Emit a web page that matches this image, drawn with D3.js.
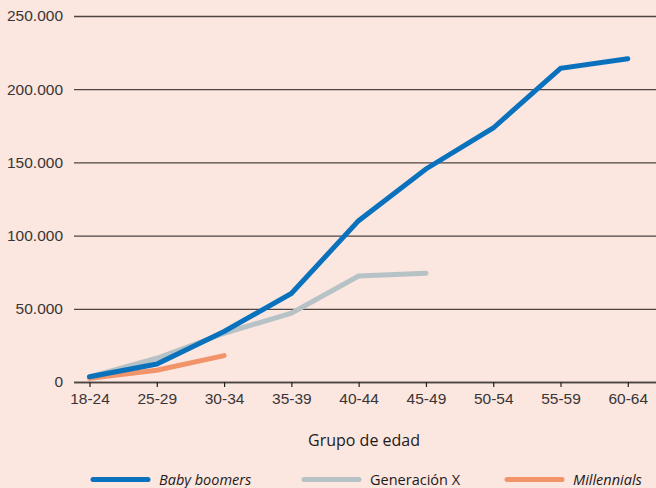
<!DOCTYPE html>
<html>
<head>
<meta charset="utf-8">
<script src="https://cdn.jsdelivr.net/npm/d3@7"></script>
<style>
  html, body { margin: 0; padding: 0; background: #fbe6e0; }
  svg { display: block; font-family: "Open Sans", "Noto Sans", sans-serif; }
</style>
</head>
<body>
<svg id="chart" width="656" height="488"></svg>
<script>
// Age groups along the x axis
const categories = ["18-24", "25-29", "30-34", "35-39", "40-44", "45-49", "50-54", "55-59", "60-64"];

// Values per generation (missing groups are simply not reached yet)
const babyBoomers = [3600, 12300, 34500, 60500, 110200, 145500, 173500, 214300, 220800];
const generacionX = [3500, 16200, 33300, 47000, 72400, 74300];
const millennials = [2600, 8000, 18000];

const yTicks = [0, 50000, 100000, 150000, 200000, 250000];

const seriesNames = ["Baby boomers", "Generación X", "Millennials"];
const seriesColors = ["#0a72bd", "#b6c2c5", "#f19469"];
const seriesItalic = [true, false, true];
const seriesValues = [babyBoomers, generacionX, millennials];

const svg = d3.select("#chart");
const textColor = "#3a3535";
const gridColor = "#4e4542";

const x = d3.scalePoint().domain(categories).range([89.5, 627.8]);
const y = d3.scaleLinear().domain([0, 250000]).range([382, 16]);

const fmt = v => d3.format(",")(v).replace(/,/g, ".");

// horizontal gridlines + y labels
const yAxis = d3.axisLeft(y)
  .tickValues(yTicks)
  .tickSize(-(656 - 74))
  .tickPadding(10)
  .tickFormat(fmt);

const gy = svg.append("g").attr("transform", "translate(74,0)").call(yAxis);
gy.select(".domain").remove();
gy.selectAll(".tick line").attr("stroke", gridColor).attr("stroke-width", 1.3);
gy.selectAll(".tick text")
  .attr("fill", textColor)
  .attr("font-size", 15.5)
  .attr("x", -11);

// x axis with small tick marks below the baseline
const xAxis = d3.axisBottom(x).tickSize(5).tickSizeOuter(0).tickPadding(6);
const gx = svg.append("g").attr("transform", "translate(0,382)").call(xAxis);
gx.select(".domain").attr("d", "M74,0.5H656").attr("stroke", gridColor).attr("stroke-width", 1.3);
gx.selectAll(".tick line").attr("stroke", "#222").attr("stroke-width", 1.2);
gx.selectAll(".tick text")
  .attr("fill", textColor)
  .attr("font-size", 15.5);

// axis title
svg.append("text")
  .attr("x", 364)
  .attr("y", 446)
  .attr("text-anchor", "middle")
  .attr("fill", "#1e1a1a")
  .attr("font-size", 16)
  .text("Grupo de edad");

// series lines
const line = d3.line()
  .x((d, i) => x(categories[i]))
  .y(d => y(d));

const drawOrder = [1, 2, 0];
drawOrder.forEach(k => {
  svg.append("path")
    .datum(seriesValues[k])
    .attr("d", line)
    .attr("fill", "none")
    .attr("stroke", seriesColors[k])
    .attr("stroke-width", 5)
    .attr("stroke-linecap", "round")
    .attr("stroke-linejoin", "miter");
});

// legend
const legendX = [93, 304, 507];
const legend = svg.append("g");
seriesNames.forEach((name, k) => {
  legend.append("line")
    .attr("x1", legendX[k]).attr("x2", legendX[k] + 55)
    .attr("y1", 479.5).attr("y2", 479.5)
    .attr("stroke", seriesColors[k])
    .attr("stroke-width", 5)
    .attr("stroke-linecap", "round");
  legend.append("text")
    .attr("x", legendX[k] + 66)
    .attr("y", 485)
    .attr("fill", "#1e1a1a")
    .attr("font-size", 14.5)
    .attr("font-style", seriesItalic[k] ? "italic" : "normal")
    .text(name);
});
</script>
</body>
</html>
